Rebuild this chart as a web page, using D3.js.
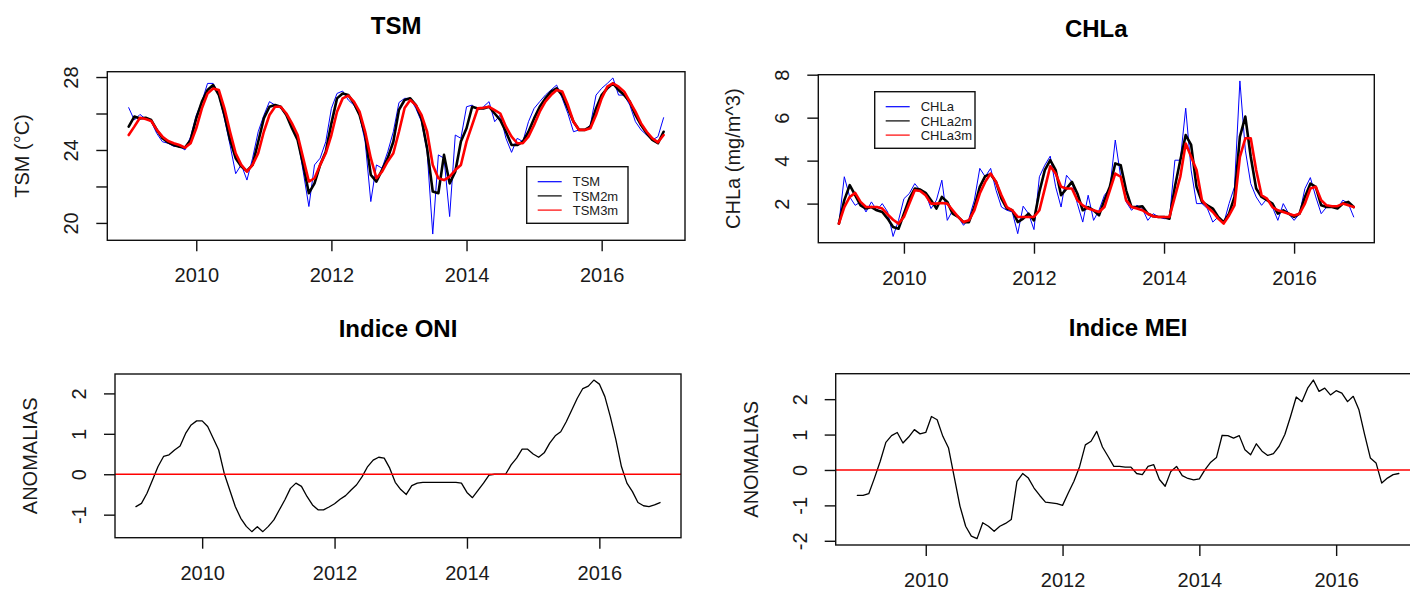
<!DOCTYPE html>
<html><head><meta charset="utf-8">
<script src="https://cdn.jsdelivr.net/npm/d3@7"></script>
<style>
body{margin:0;background:#fff;overflow:hidden}
text{font-family:"Liberation Sans",Arial,Helvetica,sans-serif}
</style>
</head><body>
<svg id="c" width="1410" height="589"></svg>
<script>
// ---------- DATA (monthly, Jan 2009 - Dec 2016) ----------
const startYear = 2009;
const xTicks = [2010, 2012, 2014, 2016];

const tsm = [26.32,25.64,25.95,25.7,25.55,24.9,24.45,24.37,24.2,24.2,24.0,24.73,
  25.9,26.65,27.65,27.65,27.0,25.73,24.27,22.7,23.2,22.35,23.55,25.0,
  25.9,26.65,26.46,26.28,25.9,25.37,24.64,22.8,20.9,23.18,23.55,24.45,
  26.28,27.1,27.23,26.74,26.46,25.9,24.45,21.17,23.18,23.0,23.9,25.0,
  26.6,26.83,26.83,26.28,25.55,23.9,19.39,23.73,23.55,20.35,24.82,24.64,
  26.37,26.46,26.19,26.37,26.65,25.55,25.92,24.64,23.87,24.64,24.46,25.55,
  26.28,26.65,27.01,27.29,27.56,26.83,26.0,25.0,25.1,25.1,25.37,27.01,
  27.38,27.65,27.95,27.01,27.01,26.46,25.55,25.1,24.82,24.55,24.73,25.77];
const tsm2m = [25.28,25.83,25.73,25.77,25.64,25.1,24.64,24.42,24.27,24.18,24.13,24.55,
  25.73,26.65,27.29,27.56,27.03,25.92,24.55,23.55,23.1,22.85,23.18,24.45,
  25.73,26.37,26.46,26.37,25.92,25.19,24.55,23.18,21.63,22.17,23.18,23.9,
  25.46,26.83,27.1,27.01,26.56,25.92,24.83,22.63,22.27,22.91,23.55,24.45,
  26.2,26.74,26.83,26.46,25.73,24.09,21.72,21.63,23.73,22.17,22.81,24.46,
  25.19,26.37,26.28,26.28,26.37,26.0,25.64,25.0,24.27,24.27,24.46,25.0,
  25.73,26.37,26.83,27.2,27.38,27.01,26.28,25.55,25.1,25.1,25.28,26.28,
  27.01,27.38,27.65,27.29,27.01,26.65,25.92,25.37,24.91,24.55,24.37,25.0];
const tsm3m = [24.82,25.28,25.77,25.7,25.59,25.1,24.73,24.49,24.37,24.27,24.13,24.37,
  25.19,26.28,27.1,27.37,27.29,26.28,25.0,23.82,23.18,22.81,23.18,23.82,
  25.0,25.92,26.37,26.37,26.0,25.46,24.82,23.55,22.27,22.45,23.18,23.82,
  24.82,26.1,26.83,26.98,26.65,26.1,25.0,23.55,22.45,22.81,23.37,23.82,
  25.0,26.3,26.74,26.46,25.92,25.0,23.18,22.45,22.35,22.54,22.9,23.18,
  24.46,25.37,26.28,26.32,26.37,26.19,26.0,25.28,24.73,24.37,24.37,24.73,
  25.37,26.1,26.65,27.01,27.29,27.2,26.46,25.55,25.1,25.1,25.19,25.92,
  26.83,27.47,27.65,27.47,27.2,26.65,26.1,25.46,25.0,24.64,24.42,24.82];

const chla = [1.07,3.25,2.31,1.92,2.08,1.61,2.08,1.69,2.0,1.61,0.47,1.22,
  2.23,2.47,2.93,2.62,2.47,1.77,2.16,3.09,1.22,1.69,1.38,0.99,
  1.3,2.16,3.64,3.25,3.64,2.62,1.84,1.69,1.61,0.6,1.88,1.53,
  0.79,3.25,3.79,4.21,2.78,1.84,3.32,3.01,2.0,1.14,2.39,1.22,
  1.69,2.39,2.7,4.96,3.25,2.08,1.69,1.92,1.77,1.22,1.53,1.38,
  1.3,1.3,4.02,4.02,6.44,3.56,2.0,2.0,1.77,1.14,1.38,1.07,
  2.0,2.78,7.71,4.49,2.93,2.31,1.92,2.23,1.84,1.22,2.0,1.53,
  1.22,1.53,2.7,3.21,2.31,1.53,1.84,1.84,1.77,2.16,2.0,1.38];
const chla2m = [1.07,2.16,2.86,2.39,1.92,1.77,1.84,1.69,1.61,1.3,0.91,0.83,
  1.53,2.23,2.7,2.65,2.5,2.16,1.77,2.31,2.08,1.53,1.38,1.14,
  1.14,1.84,2.78,3.28,3.37,3.01,2.23,1.77,1.69,1.14,1.3,1.53,
  1.22,2.55,3.56,4.02,3.56,2.39,2.7,3.01,2.47,1.69,1.84,1.69,
  1.45,2.16,2.78,3.87,3.79,2.62,1.84,1.84,1.88,1.53,1.41,1.38,
  1.38,1.3,2.78,4.02,5.19,4.73,2.78,2.08,1.92,1.77,1.38,1.14,
  1.53,2.31,5.12,6.05,4.18,2.7,2.31,2.16,2.0,1.53,1.69,1.53,
  1.38,1.53,2.31,2.93,2.78,1.92,1.84,1.84,1.77,2.0,2.08,1.84];
const chla3m = [1.07,1.84,2.31,2.5,2.08,1.84,1.84,1.84,1.77,1.5,1.25,1.07,
  1.38,2.0,2.62,2.59,2.39,2.0,2.0,2.03,2.0,1.69,1.38,1.14,
  1.22,1.69,2.47,3.01,3.4,3.01,2.39,1.84,1.69,1.38,1.38,1.38,
  1.38,1.69,2.7,3.74,3.4,2.78,2.7,2.7,2.16,1.92,1.77,1.69,
  1.61,1.84,2.62,3.4,3.25,2.16,1.84,1.77,1.69,1.53,1.41,1.38,
  1.38,1.38,2.31,3.25,4.8,4.18,3.56,2.16,1.84,1.61,1.3,1.07,
  1.45,1.92,4.18,5.04,5.04,3.56,2.39,2.23,1.84,1.69,1.61,1.53,
  1.45,1.53,2.0,2.7,2.78,2.16,1.92,1.88,1.88,2.0,1.92,1.84];

const oni = [-0.8,-0.72,-0.47,-0.14,0.19,0.44,0.48,0.6,0.7,1.01,1.22,1.32,
  1.32,1.18,0.89,0.6,0.02,-0.39,-0.8,-1.09,-1.29,-1.42,-1.3,-1.42,
  -1.29,-1.13,-0.88,-0.63,-0.35,-0.22,-0.3,-0.55,-0.76,-0.88,-0.88,-0.81,
  -0.73,-0.62,-0.53,-0.39,-0.26,-0.06,0.19,0.35,0.42,0.4,0.15,-0.2,
  -0.38,-0.5,-0.28,-0.22,-0.2,-0.2,-0.2,-0.2,-0.2,-0.2,-0.2,-0.22,
  -0.45,-0.58,-0.4,-0.22,-0.02,0.0,0.0,0.0,0.23,0.4,0.62,0.62,
  0.5,0.42,0.53,0.77,0.95,1.05,1.3,1.59,1.88,2.12,2.18,2.33,
  2.23,1.92,1.42,0.85,0.19,-0.22,-0.43,-0.7,-0.78,-0.8,-0.76,-0.7];
const mei = [-0.72,-0.72,-0.67,-0.23,0.24,0.78,0.97,1.06,0.76,0.93,1.14,1.02,
  1.06,1.51,1.42,0.95,0.62,-0.2,-1.02,-1.59,-1.87,-1.94,-1.49,-1.59,
  -1.73,-1.59,-1.51,-1.4,-0.32,-0.1,-0.23,-0.51,-0.72,-0.91,-0.93,-0.95,
  -1.0,-0.65,-0.32,0.1,0.71,0.81,1.09,0.65,0.38,0.1,0.1,0.08,
  0.08,-0.1,-0.13,0.1,0.15,-0.27,-0.46,-0.04,0.1,-0.16,-0.24,-0.28,
  -0.25,0.01,0.22,0.35,0.98,0.97,0.9,0.97,0.57,0.43,0.74,0.53,
  0.41,0.46,0.67,1.0,1.51,2.06,1.93,2.31,2.54,2.22,2.31,2.12,
  2.24,2.17,1.93,2.08,1.7,1.0,0.34,0.2,-0.37,-0.23,-0.13,-0.1];

const tsmTicks = [20,22,24,26,28];   const tsmTickLabels = ["20","","24","","28"];
const chlTicks = [2,4,6,8];          const chlTickLabels = ["2","4","6","8"];
const oniTicks = [-1,0,1,2];         const oniTickLabels = ["-1","0","1","2"];
const meiTicks = [-2,-1,0,1,2];      const meiTickLabels = ["-2","-1","0","1","2"];

const tsmNames = ["TSM","TSM2m","TSM3m"];
const chlNames = ["CHLa","CHLa2m","CHLa3m"];
const seriesColors = ["#0000ff","#000000","#ff0000"];
const seriesWidths = [1, 2.6, 2.6];

// ---------- DRAWING ----------
const svg = d3.select("#c");
svg.append("rect").attr("width",1410).attr("height",589).attr("fill","#fff");

function rRange(ext){ const s = ext[1]-ext[0]; return [ext[0]-0.04*s, ext[1]+0.04*s]; }

function panel(o){
  const g = svg.append("g");
  const n = o.series[0].length;
  const times = d3.range(n).map(i => startYear + i/12);
  const x = d3.scaleLinear().domain(rRange(d3.extent(times))).range([o.l, o.r]);
  const y = d3.scaleLinear().domain(rRange(d3.extent(o.series.flat()))).range([o.b, o.t]);

  o.series.forEach((s,k)=>{
    const line = d3.line().x((d,i)=>x(times[i])).y(d=>y(d));
    g.append("path").datum(s).attr("d",line).attr("fill","none")
      .attr("stroke",o.colors[k]).attr("stroke-width",o.widths[k])
      .attr("stroke-linejoin","round").attr("stroke-linecap","round");
  });
  if (o.zero) {
    g.append("line").attr("x1",o.l).attr("x2",o.r).attr("y1",y(0)).attr("y2",y(0))
      .attr("stroke","#ff0000").attr("stroke-width",1.6);
  }

  // box
  g.append("rect").attr("x",o.l).attr("y",o.t).attr("width",o.r-o.l).attr("height",o.b-o.t)
    .attr("fill","none").attr("stroke","#111").attr("stroke-width",1.4);

  // x axis
  const xa = g.append("g").attr("transform",`translate(0,${o.b})`)
    .call(d3.axisBottom(x).tickValues(xTicks).tickSize(11).tickPadding(17).tickFormat(d3.format("d")));
  xa.select(".domain").remove();
  xa.attr("font-size",20).attr("font-family",null);
  xa.selectAll("line").attr("stroke","#111").attr("stroke-width",1.4);
  xa.selectAll("text").attr("fill","#1a1a1a");

  // y axis
  const ya = g.append("g").attr("transform",`translate(${o.l},0)`)
    .call(d3.axisLeft(y).tickValues(o.ticks).tickSize(11).tickFormat((d,i)=>o.tickLabels[i]));
  ya.select(".domain").remove();
  ya.attr("font-size",20).attr("font-family",null);
  ya.selectAll("line").attr("stroke","#111").attr("stroke-width",1.4);
  ya.selectAll("text").attr("x",0).attr("dy","0.35em").attr("text-anchor","middle")
    .attr("transform","translate(-36,0) rotate(-90)").attr("fill","#1a1a1a");

  // title
  g.append("text").attr("x",(o.l+o.r)/2).attr("y",o.t-37.5).attr("text-anchor","middle")
    .attr("font-size",24).attr("font-weight","bold").attr("fill","#000").text(o.title);
  // y label
  g.append("text").attr("transform",`translate(${o.l-85},${(o.t+o.b)/2}) rotate(-90)`)
    .attr("dy","0.35em").attr("text-anchor","middle").attr("font-size",20)
    .attr("fill","#1a1a1a").text(o.ylab);

  // legend
  if (o.legend){
    const L = o.legend;
    const lg = g.append("g");
    lg.append("rect").attr("x",L.x).attr("y",L.y).attr("width",L.w).attr("height",L.h)
      .attr("fill","#fff").attr("stroke","#111").attr("stroke-width",1.4);
    L.names.forEach((nm,k)=>{
      const yy = L.y + 15 + k*14.2;
      lg.append("line").attr("x1",L.x+11).attr("x2",L.x+35).attr("y1",yy).attr("y2",yy)
        .attr("stroke",o.colors[k]).attr("stroke-width",1.2);
      lg.append("text").attr("x",L.x+46).attr("y",yy).attr("dy","0.36em")
        .attr("font-size",13).attr("fill","#1a1a1a").text(nm);
    });
  }
}

panel({l:107.3, r:685, t:71.7, b:240.3, series:[tsm,tsm2m,tsm3m], colors:seriesColors, widths:seriesWidths,
  ticks:tsmTicks, tickLabels:tsmTickLabels, title:"TSM", ylab:"TSM (°C)",
  legend:{x:526.7, y:166.7, w:101.3, h:56.6, names:tsmNames}});
panel({l:818.3, r:1374.3, t:74.7, b:242.7, series:[chla,chla2m,chla3m], colors:seriesColors, widths:seriesWidths,
  ticks:chlTicks, tickLabels:chlTickLabels, title:"CHLa", ylab:"CHLa (mg/m^3)",
  legend:{x:874.7, y:91.7, w:100.3, h:56.6, names:chlNames}});
panel({l:115, r:681, t:374, b:537.7, series:[oni], colors:["#000"], widths:[1.3],
  ticks:oniTicks, tickLabels:oniTickLabels, title:"Indice ONI", ylab:"ANOMALIAS", zero:true});
panel({l:835.7, r:1420.5, t:373.7, b:545, series:[mei], colors:["#000"], widths:[1.3],
  ticks:meiTicks, tickLabels:meiTickLabels, title:"Indice MEI", ylab:"ANOMALIAS", zero:true});
</script>
</body></html>
